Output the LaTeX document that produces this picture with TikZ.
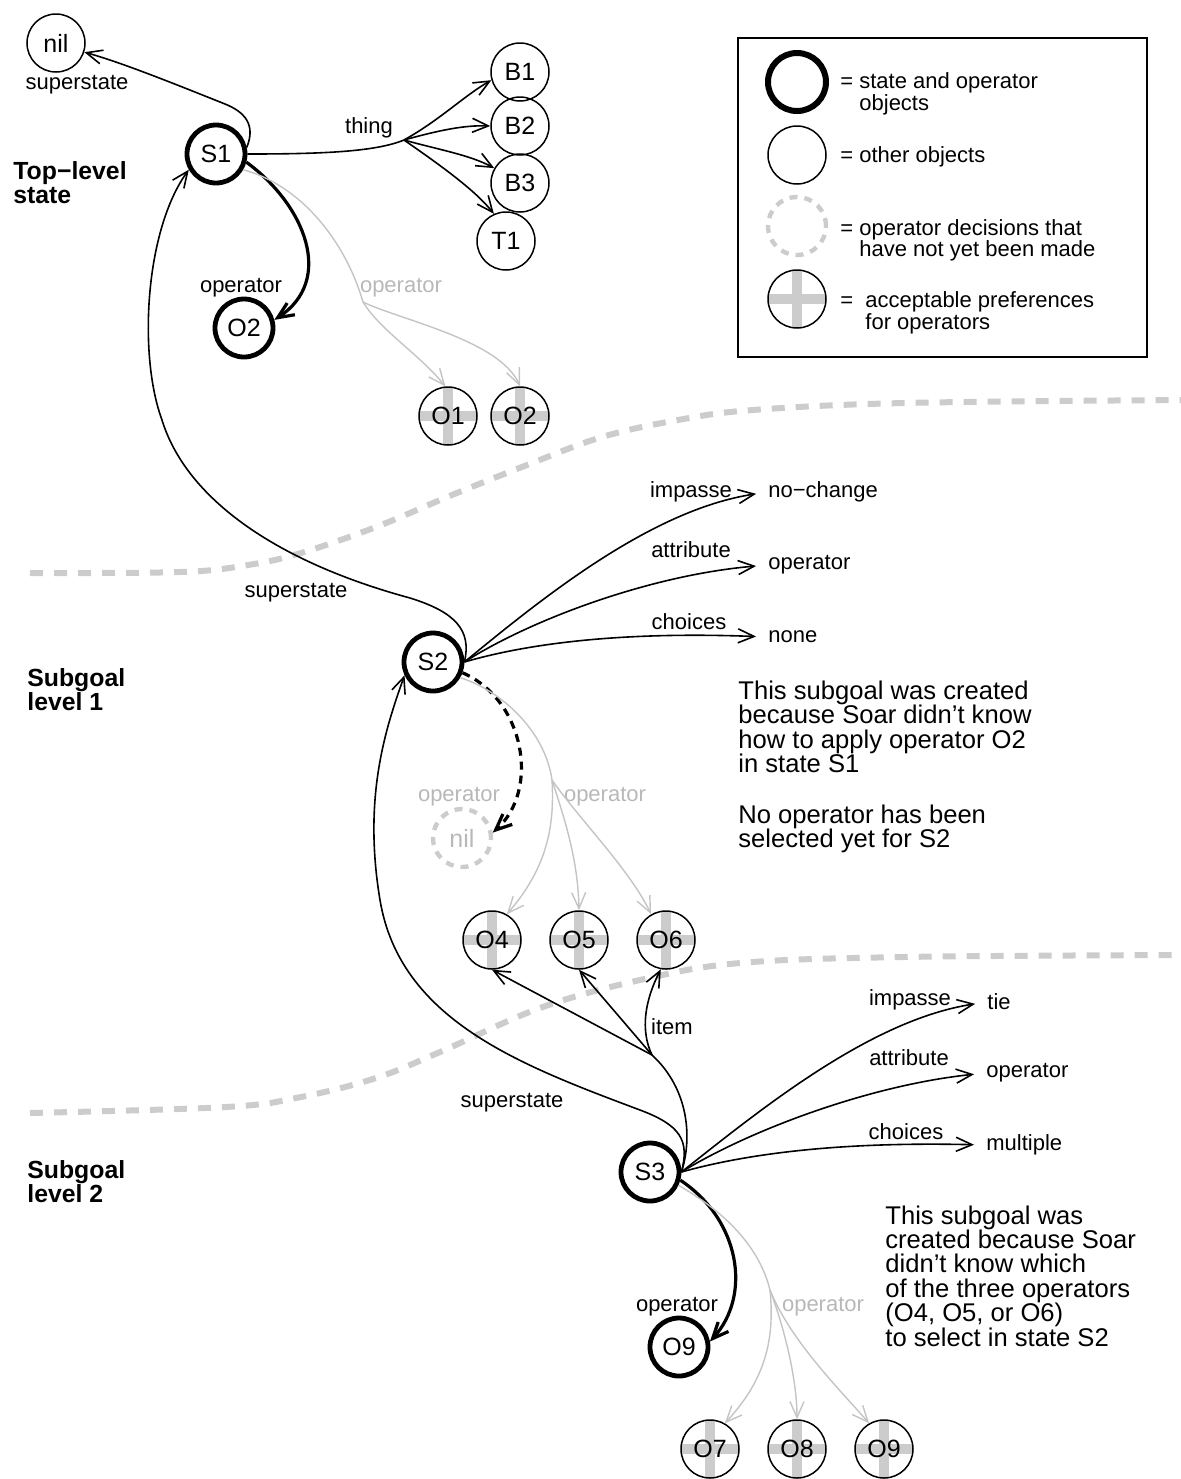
\documentclass[tikz,border=0pt]{standalone}
\usepackage{fontspec}
\setmainfont{Liberation Sans}
\usetikzlibrary{arrows.meta}
\definecolor{lg}{HTML}{C4C4C4}
\definecolor{lgt}{HTML}{B8B8B8}
\definecolor{sepc}{HTML}{CCCCCC}
\tikzset{
  lbl/.style={font=\fontsize{11}{11}\selectfont, inner sep=0pt},
  glbl/.style={lbl, text=lgt},
  obj/.style={circle, draw, line width=0.75pt, minimum size=29pt, inner sep=0pt, font=\fontsize{12.5}{12.5}\selectfont},
  sobj/.style={obj, line width=2.4pt},
  acc/.style={obj, path picture={
      \fill[sepc] ([xshift=-2.5pt]path picture bounding box.north) rectangle ([xshift=2.5pt]path picture bounding box.south);
      \fill[sepc] ([yshift=-2.5pt]path picture bounding box.west) rectangle ([yshift=2.5pt]path picture bounding box.east);}},
  pend/.style={circle, draw=sepc, line width=2.2pt, dash pattern=on 4pt off 3.5pt, minimum size=29pt, inner sep=0pt, text=lgt, font=\fontsize{12.5}{12.5}\selectfont},
  arr/.style={line width=0.8pt, -{Straight Barb[length=8pt,width=7pt]}},
  garr/.style={arr, draw=lg, line width=0.7pt},
  tarr/.style={line width=1.6pt, -{Straight Barb[length=8pt,width=7pt]}},
  darr/.style={tarr, dash pattern=on 4pt off 3pt},
  ln/.style={line width=0.8pt},
  gln/.style={draw=lg, line width=0.7pt},
  sepline/.style={draw=sepc, line width=3pt, dash pattern=on 6.5pt off 5.5pt},
  head/.style={font=\fontsize{12.4}{12}\selectfont\bfseries, align=left, inner sep=0pt, anchor=west},
  para/.style={font=\fontsize{12.8}{12.2}\selectfont, align=left, inner sep=0pt, anchor=west},
  val/.style={lbl, anchor=west},
  legt/.style={lbl, anchor=west},
}
\begin{document}
\begin{tikzpicture}[x=0.5pt,y=-0.5pt]
\useasboundingbox (0,0) rectangle (1181,1479);

% separators
\draw[sepline] plot[smooth, tension=0.6] coordinates {(30,573) (181,572) (248,565) (301,553) (376,527) (452,495) (527,465) (602,437) (678,420) (753,410) (904,403) (1181,400)};
\draw[sepline] plot[smooth, tension=0.6] coordinates {(30,1113) (226,1107) (301,1097) (376,1078) (440,1052) (540,1008) (640,980) (740,963) (904,957) (1181,955)};

% headings
\node[head] (h1) at (13,183) {Top−level\\state};
\node[head] (h2) at (27,690) {Subgoal\\level 1};
\node[head] (h3) at (27,1182) {Subgoal\\level 2};

% ---------- top level
\node[obj] (nilA) at (56,43) {nil};
\node[sobj] (S1) at (216,154) {S1};
\node[obj] (B1) at (520,72) {B1};
\node[obj] (B2) at (520,126) {B2};
\node[obj] (B3) at (520,183) {B3};
\node[obj] (T1) at (506,241) {T1};
\node[sobj] (O2a) at (244,328) {O2};
\node[acc] (O1a) at (448,416) {O1};
\node[acc] (O2b) at (520,416) {O2};

\node[lbl] (lsup1) at (77,85) {superstate};
\node[lbl] (lthing) at (369,128) {thing};
\node[lbl] (lop1) at (241,288) {operator};
\node[glbl] (lop2) at (401,288) {operator};

\draw[arr] (S1.12) .. controls (256,125) and (245,112) .. (225,104) .. controls (170,82) and (120,62) .. (nilA.-18);
\coordinate (fan1) at (404,140);
\draw[ln] (S1.east) .. controls (320,154) and (375,152) .. (fan1);
\draw[arr] (fan1) .. controls (440,120) and (465,95) .. (B1.196);
\draw[arr] (fan1) .. controls (440,130) and (465,125) .. (B2.west);
\draw[arr] (fan1) .. controls (440,150) and (470,155) .. (B3.150);
\draw[arr] (fan1) .. controls (440,165) and (475,190) .. (T1.114);
\draw[tarr] (S1.-15) .. controls (305,205) and (335,280) .. (O2a.15);
\coordinate (sp1) at (363,302);
\draw[gln] (S1.-30) .. controls (300,185) and (345,240) .. (sp1);
\draw[garr] (sp1) .. controls (380,330) and (420,355) .. (O1a.95);
\draw[garr] (sp1) .. controls (400,320) and (500,340) .. (O2b.north);

% ---------- legend
\draw[line width=0.75pt] (738,38) rectangle (1147,357);
\node[sobj, line width=3pt] (lgA) at (797,82) {};
\node[obj] (lgB) at (797,155) {};
\node[pend] (lgC) at (797,226) {};
\node[acc] (lgD) at (797,299) {};
\node[legt] (lt1) at (840,83) {= state and operator};
\node[legt] (lt2) at (859,105) {objects};
\node[legt] (lt3) at (840,157) {= other objects};
\node[legt] (lt4) at (840,230) {= operator decisions that};
\node[legt] (lt5) at (859,251) {have not yet been made};
\node[legt] (lt6) at (840,302) {=\ \ acceptable preferences};
\node[legt] (lt7) at (865,324) {for operators};

% ---------- subgoal level 1
\node[sobj] (S2) at (433,662) {S2};
\node[pend] (nilB) at (462,838) {nil};
\node[glbl] (lop3) at (459,797) {operator};
\node[glbl] (lop4) at (605,797) {operator};
\node[acc] (O4) at (492,940) {O4};
\node[acc] (O5) at (579,940) {O5};
\node[acc] (O6) at (666,940) {O6};
\node[lbl] (lsup2) at (296,593) {superstate};

\node[lbl] (li1) at (691,492) {impasse};
\node[lbl] (la1) at (691,550) {attribute};
\node[lbl] (lc1) at (689,622) {choices};
\node[val] (v1) at (768,492) {no−change};
\node[val] (v2) at (768,565) {operator};
\node[val] (v3) at (768,637) {none};

\draw[arr, shorten >=6pt] (S2.east) .. controls (540,600) and (650,510) .. (v1.west);
\draw[arr, shorten >=6pt] (S2.east) .. controls (530,620) and (650,575) .. (v2.west);
\draw[arr, shorten >=6pt] (S2.east) .. controls (540,640) and (640,632) .. (v3.west);

\draw[arr] (S2.east) .. controls (472,630) and (455,612) .. (410,598) .. controls (270,560) and (185,495) .. (162,420) .. controls (138,355) and (145,230) .. (S1.210);

\draw[darr] (S2.-20) .. controls (525,700) and (540,790) .. (nilB.10);
\coordinate (sp2) at (552,780);
\draw[gln] (S2.-30) .. controls (500,690) and (545,730) .. (sp2);
\draw[garr] (sp2) .. controls (555,830) and (545,870) .. (O4.60);
\draw[garr] (sp2) .. controls (565,820) and (578,860) .. (O5.north);
\draw[garr] (sp2) .. controls (580,820) and (630,870) .. (O6.120);

\node[para] (p1) at (738,727) {This subgoal was created\\because Soar didn’t know\\how to apply operator O2\\in state S1};
\node[para] (p2) at (738,829) {No operator has been\\selected yet for S2};

% ---------- subgoal level 2
\node[sobj] (S3) at (650,1172) {S3};
\node[sobj] (O9a) at (679,1347) {O9};
\node[lbl] (lop5) at (677,1307) {operator};
\node[glbl] (lop6) at (823,1307) {operator};
\node[acc] (O7) at (710,1449) {O7};
\node[acc] (O8) at (797,1449) {O8};
\node[acc] (O9b) at (884,1449) {O9};
\node[lbl] (lsup3) at (512,1103) {superstate};
\node[lbl] (litem) at (672,1027) {item};

\node[lbl] (li2) at (910,1000) {impasse};
\node[lbl] (la2) at (909,1058) {attribute};
\node[lbl] (lc2) at (906,1132) {choices};
\node[val] (v4) at (987,1002) {tie};
\node[val] (v5) at (986,1073) {operator};
\node[val] (v6) at (986,1145) {multiple};

\draw[arr, shorten >=6pt] (S3.east) .. controls (760,1110) and (870,1020) .. (v4.west);
\draw[arr, shorten >=6pt] (S3.east) .. controls (750,1130) and (870,1085) .. (v5.west);
\draw[arr, shorten >=6pt] (S3.east) .. controls (760,1150) and (860,1142) .. (v6.west);

\coordinate (sp3) at (652,1055);
\draw[ln] (S3.east) .. controls (692,1140) and (690,1090) .. (sp3);
\draw[arr] (sp3) -- (O4.-90);
\draw[arr] (sp3) -- (O5.south);
\draw[arr] (sp3) .. controls (640,1030) and (645,1000) .. (O6.-100);

\draw[arr] (S3.east) .. controls (690,1140) and (680,1125) .. (640,1110) .. controls (520,1065) and (400,1020) .. (380,900) .. controls (363,798) and (385,730) .. (S2.205);

\draw[tarr] (S3.-15) .. controls (740,1220) and (752,1295) .. (O9a.10);
\coordinate (sp4) at (770,1290);
\draw[gln] (S3.-25) .. controls (730,1215) and (760,1250) .. (sp4);
\draw[garr] (sp4) .. controls (775,1340) and (765,1380) .. (O7.60);
\draw[garr] (sp4) .. controls (785,1330) and (797,1380) .. (O8.north);
\draw[garr] (sp4) .. controls (790,1340) and (840,1390) .. (O9b.120);

\node[para] (p3) at (885,1276) {This subgoal was\\created because Soar\\didn’t know which\\of the three operators\\(O4, O5, or O6)\\to select in state S2};
\end{tikzpicture}
\end{document}
